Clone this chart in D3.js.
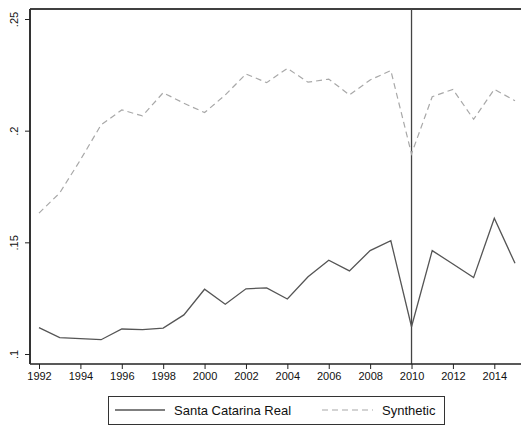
<!DOCTYPE html>
<meta charset="utf-8">
<head>
<style>
body { margin: 0; background: #fff; }
svg { font-family: "Liberation Sans", Arial, sans-serif; }
.tick text { fill: #111; }
</style>
<script src="https://d3js.org/d3.v7.min.js"></script>
</head>
<body>
<script>
// chart data
var years = d3.range(1992, 2016);
var realValues = [0.1118, 0.1073, 0.1069, 0.1064, 0.1112, 0.1109, 0.1116, 0.1175, 0.1290, 0.1223,
                  0.1292, 0.1296, 0.1246, 0.1346, 0.1420, 0.1372, 0.1463, 0.1507, 0.1122, 0.1463,
                  0.1403, 0.1342, 0.1608, 0.1406];
var synthValues = [0.1631, 0.1721, 0.1869, 0.2026, 0.2093, 0.2066, 0.2170, 0.2123, 0.2081, 0.2160,
                   0.2254, 0.2215, 0.2279, 0.2217, 0.2231, 0.2160, 0.2227, 0.2269, 0.1896, 0.2152,
                   0.2185, 0.2051, 0.2185, 0.2134];
var xTicks = [1992, 1994, 1996, 1998, 2000, 2002, 2004, 2006, 2008, 2010, 2012, 2014];
var yTicks = [0.1, 0.15, 0.2, 0.25];
var yTickLabels = [".1", ".15", ".2", ".25"];
var treatYear = 2010;
var legendLabels = ["Santa Catarina Real", "Synthetic"];

var W = 521, H = 426;
var svg = d3.select("body").append("svg").attr("width", W).attr("height", H);

// scales
var x = d3.scaleLinear().domain([1992, 2015]).range([39, 515]);
var y = d3.scaleLinear().domain([0.1, 0.25]).range([354, 19]);
var plotLeft = 30, plotRight = 521, plotTop = 9, plotBottom = 364;

// top frame line
svg.append("line")
  .attr("x1", plotLeft).attr("x2", plotRight)
  .attr("y1", plotTop).attr("y2", plotTop)
  .attr("stroke", "#000").attr("stroke-width", 1.3);

// vertical line at treatment year
svg.append("line")
  .attr("x1", x(treatYear)).attr("x2", x(treatYear))
  .attr("y1", plotTop).attr("y2", plotBottom)
  .attr("stroke", "#444").attr("stroke-width", 1.3);

// lines
var realData = years.map(function(d, i) { return {x: d, y: realValues[i]}; });
var synthData = years.map(function(d, i) { return {x: d, y: synthValues[i]}; });
var line = d3.line().x(function(d) { return x(d.x); }).y(function(d) { return y(d.y); });

svg.append("path").datum(synthData)
  .attr("d", line).attr("fill", "none")
  .attr("stroke", "#a8a8a8").attr("stroke-width", 1.2)
  .attr("stroke-dasharray", "6,4");

svg.append("path").datum(realData)
  .attr("d", line).attr("fill", "none")
  .attr("stroke", "#555").attr("stroke-width", 1.3);

// x axis
var xAxis = svg.append("g")
  .attr("transform", "translate(0," + plotBottom + ")")
  .call(d3.axisBottom(x).tickValues(xTicks).tickFormat(d3.format("d")).tickSize(5).tickSizeOuter(0));
xAxis.select(".domain").attr("d", "M" + plotLeft + ",0H" + plotRight).attr("stroke", "#222").attr("stroke-width", 1.5);
xAxis.selectAll(".tick line").attr("stroke", "#222");
xAxis.selectAll(".tick text").attr("font-size", 11).attr("y", 8);

// y axis
var yAxis = svg.append("g")
  .attr("transform", "translate(" + plotLeft + ",0)")
  .call(d3.axisLeft(y).tickValues(yTicks).tickFormat(function(d, i) { return yTickLabels[i]; }).tickSize(5).tickSizeOuter(0));
yAxis.select(".domain").attr("d", "M0," + plotTop + "V" + plotBottom).attr("stroke", "#333").attr("stroke-width", 2);
yAxis.selectAll(".tick line").attr("stroke", "#222");
yAxis.selectAll(".tick text")
  .attr("font-size", 11)
  .attr("text-anchor", "middle")
  .attr("x", null).attr("dy", null)
  .attr("transform", "translate(-12,0) rotate(-90)");

// legend
var lg = svg.append("g");
lg.append("rect")
  .attr("x", 108.5).attr("y", 396.5).attr("width", 336).attr("height", 28)
  .attr("fill", "#fff").attr("stroke", "#333").attr("stroke-width", 1);
lg.append("line").attr("x1", 115).attr("x2", 165).attr("y1", 410).attr("y2", 410)
  .attr("stroke", "#555").attr("stroke-width", 1.3);
lg.append("text").attr("x", 174).attr("y", 415).attr("font-size", 13).attr("fill", "#111").text(legendLabels[0]);
lg.append("line").attr("x1", 322).attr("x2", 373).attr("y1", 410).attr("y2", 410)
  .attr("stroke", "#a8a8a8").attr("stroke-width", 1.2).attr("stroke-dasharray", "6,4");
lg.append("text").attr("x", 382).attr("y", 415).attr("font-size", 13).attr("fill", "#111").text(legendLabels[1]);
</script>
</body>
</html>
